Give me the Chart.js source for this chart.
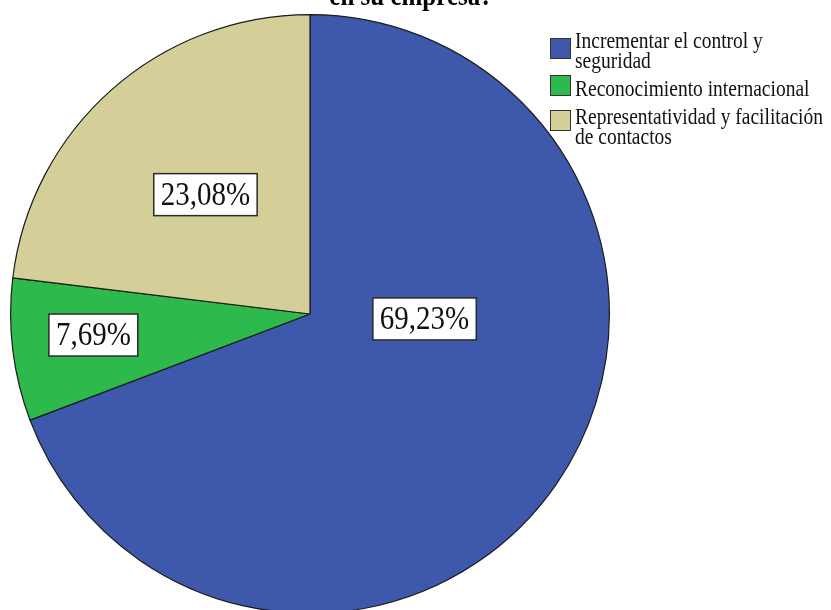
<!DOCTYPE html>
<html>
<head>
<meta charset="utf-8">
<script src="https://cdn.jsdelivr.net/npm/chart.js@4.4.1/dist/chart.umd.min.js"></script>
<style>
html,body{margin:0;padding:0;background:#fff;overflow:hidden;width:831px;height:610px;}
#wrap{position:absolute;left:0;top:0;width:831px;height:620px;}
canvas{display:block;}
</style>
</head>
<body>
<div id="wrap"><canvas id="c" width="831" height="620"></canvas></div>
<script>
// ---- data ----
const categories = ['Incrementar el control y seguridad', 'Reconocimiento internacional', 'Representatividad y facilitación de contactos'];
const legendLines = [['Incrementar el control y', 'seguridad'], ['Reconocimiento internacional'], ['Representatividad y facilitación', 'de contactos']];
const percentages = [69.23, 7.69, 23.08];
const sliceColors = ['#3e58ab', '#2db94b', '#d4cf98'];
const titleText = 'en su empresa?';
// label anchor within each slice (fraction of angle span, fraction of radius)
const labelAngleFrac = [0.371, 0.55, 0.504];
const labelRadiusFrac = [0.383, 0.727, 0.53];
// legend layout
const legendSwatchTops = [38, 75, 110];
const legendBaselines = [[48, 68], [96], [124, 144]];

function fmt(v){ return v.toFixed(2).replace('.', ',') + '%'; }

const overlay = {
  id: 'overlay',
  afterDatasetsDraw(chart){
    const ctx = chart.ctx;
    const meta = chart.getDatasetMeta(0);
    // value labels
    meta.data.forEach((arc, i) => {
      const p = arc.getProps(['x','y','startAngle','endAngle','outerRadius'], true);
      const a = p.startAngle + (p.endAngle - p.startAngle) * labelAngleFrac[i];
      const r = p.outerRadius * labelRadiusFrac[i];
      const cx = p.x + r * Math.cos(a);
      const cy = p.y + r * Math.sin(a);
      const txt = fmt(chart.data.datasets[0].data[i]);
      ctx.save();
      ctx.font = '29px "Liberation Serif", "Times New Roman", serif';
      const w = ctx.measureText(txt).width;
      const bw = w + 14, bh = 42;
      ctx.fillStyle = '#ffffff';
      ctx.fillRect(cx - bw/2, cy - bh/2, bw, bh);
      ctx.strokeStyle = '#2a2a2a';
      ctx.lineWidth = 1.5;
      ctx.strokeRect(cx - bw/2, cy - bh/2, bw, bh);
      ctx.translate(cx, cy);
      ctx.scale(1, 1.18);
      ctx.fillStyle = '#111';
      ctx.textAlign = 'center';
      ctx.textBaseline = 'middle';
      ctx.fillText(txt, 0, 1);
      ctx.restore();
    });
    // legend
    ctx.save();
    legendLines.forEach((lines, i) => {
      const y = legendSwatchTops[i];
      ctx.fillStyle = sliceColors[i];
      ctx.fillRect(550, y, 21, 21);
      ctx.strokeStyle = '#333';
      ctx.lineWidth = 1;
      ctx.strokeRect(550.5, y + 0.5, 20, 20);
      ctx.fillStyle = '#111';
      ctx.font = '19.5px "Liberation Serif", "Times New Roman", serif';
      ctx.textAlign = 'left';
      ctx.textBaseline = 'alphabetic';
      lines.forEach((ln, k) => {
        ctx.save();
        ctx.translate(575, legendBaselines[i][k]);
        ctx.scale(1, 1.2);
        ctx.fillText(ln, 0, 0);
        ctx.restore();
      });
    });
    ctx.restore();
    // title (cropped second line)
    ctx.save();
    ctx.font = 'bold 25px "Liberation Serif", "Times New Roman", serif';
    ctx.fillStyle = '#000';
    ctx.textAlign = 'center';
    ctx.textBaseline = 'alphabetic';
    ctx.translate(411, 5);
    ctx.scale(1, 1.15);
    ctx.fillText(titleText, 0, 0);
    ctx.restore();
  }
};

new Chart(document.getElementById('c'), {
  type: 'pie',
  data: {
    labels: categories,
    datasets: [{
      data: percentages,
      backgroundColor: sliceColors,
      borderColor: '#1c1c1c',
      borderWidth: 1.2,
      hoverOffset: 0
    }]
  },
  options: {
    responsive: false,
    animation: false,
    layout: { padding: { left: 10, right: 221, top: 14, bottom: 6 } },
    plugins: {
      legend: { display: false },
      tooltip: { enabled: false },
      title: { display: false }
    }
  },
  plugins: [overlay]
});
</script>
</body>
</html>
